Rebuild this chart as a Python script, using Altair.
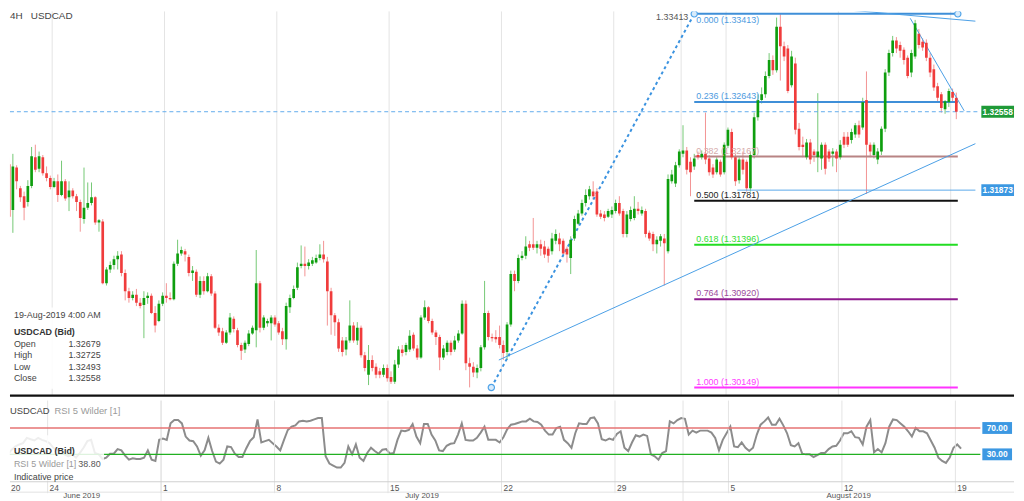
import altair as alt
import pandas as pd

FONT = "Liberation Sans"

# ---------------- data (4H bars, 6 per trading day, first bar = 20 Jun 2019) ----------------
bar_open = [
1.3210,1.3170,1.3207,1.3189,1.3182,1.3177,1.3191,1.3216,1.3206,1.3216,
1.3202,1.3198,1.3190,1.3195,1.3183,1.3195,1.3181,1.3187,1.3182,1.3177,
1.3162,1.3172,1.3176,1.3181,1.3159,1.3160,1.3106,1.3118,1.3122,1.3127,
1.3131,1.3115,1.3099,1.3093,1.3096,1.3089,1.3087,1.3093,1.3095,1.3080,
1.3073,1.3088,1.3095,1.3093,1.3092,1.3123,1.3132,1.3134,1.3129,1.3115,
1.3116,1.3096,1.3108,1.3099,1.3112,1.3097,1.3067,1.3064,1.3054,1.3063,
1.3075,1.3065,1.3052,1.3048,1.3053,1.3062,1.3065,1.3106,1.3067,1.3071,
1.3071,1.3076,1.3071,1.3064,1.3057,1.3085,1.3093,1.3102,1.3121,1.3123,
1.3121,1.3123,1.3124,1.3128,1.3131,1.3125,1.3099,1.3078,1.3072,1.3056,
1.3048,1.3056,1.3069,1.3056,1.3067,1.3043,1.3026,1.3039,1.3033,1.3029,
1.3026,1.3032,1.3024,1.3020,1.3035,1.3048,1.3046,1.3048,1.3061,1.3049,
1.3041,1.3076,1.3085,1.3073,1.3063,1.3059,1.3041,1.3046,1.3054,1.3048,
1.3056,1.3062,1.3088,1.3036,1.3033,1.3028,1.3032,1.3050,1.3080,1.3059,
1.3059,1.3059,1.3052,1.3046,1.3070,1.3114,1.3108,1.3128,1.3130,1.3140,
1.3140,1.3137,1.3140,1.3138,1.3136,1.3134,1.3143,1.3145,1.3143,1.3136,
1.3128,1.3145,1.3158,1.3167,1.3176,1.3182,1.3186,1.3186,1.3167,1.3166,
1.3164,1.3166,1.3169,1.3176,1.3169,1.3149,1.3162,1.3163,1.3171,1.3167,
1.3169,1.3150,1.3149,1.3140,1.3143,1.3145,1.3134,1.3195,1.3193,1.3209,
1.3219,1.3222,1.3212,1.3208,1.3218,1.3216,1.3219,1.3215,1.3207,1.3203,
1.3212,1.3203,1.3226,1.3238,1.3216,1.3196,1.3214,1.3212,1.3189,1.3218,
1.3251,1.3266,1.3271,1.3287,1.3301,1.3292,1.3330,1.3313,1.3311,1.3279,
1.3298,1.3241,1.3227,1.3216,1.3229,1.3221,1.3216,1.3215,1.3227,1.3221,
1.3219,1.3221,1.3216,1.3234,1.3234,1.3231,1.3236,1.3244,1.3242,1.3266,
1.3227,1.3218,1.3214,1.3221,1.3241,1.3290,1.3307,1.3318,1.3314,1.3310,
1.3303,1.3290,1.3304,1.3324,1.3317,1.3316,1.3303,1.3293,1.3278,1.3271,
1.3258,1.3264,1.3273,1.32679]

bar_high = [
1.3216,1.3219,1.3209,1.3191,1.3186,1.3196,1.3225,1.3227,1.3221,1.3218,
1.3208,1.3200,1.3198,1.3201,1.3213,1.3197,1.3195,1.3189,1.3184,1.3179,
1.3207,1.3194,1.3194,1.3182,1.3162,1.3162,1.3120,1.3125,1.3130,1.3134,
1.3134,1.3118,1.3102,1.3099,1.3101,1.3093,1.3099,1.3098,1.3097,1.3086,
1.3091,1.3098,1.3106,1.3098,1.3125,1.3144,1.3138,1.3136,1.3131,1.3121,
1.3118,1.3112,1.3112,1.3115,1.3114,1.3099,1.3070,1.3067,1.3065,1.3080,
1.3077,1.3067,1.3054,1.3056,1.3065,1.3069,1.3135,1.3108,1.3078,1.3075,
1.3078,1.3078,1.3073,1.3067,1.3089,1.3096,1.3104,1.3124,1.3139,1.3138,
1.3127,1.3129,1.3131,1.3140,1.3143,1.3129,1.3102,1.3080,1.3075,1.3059,
1.3059,1.3091,1.3072,1.3072,1.3069,1.3046,1.3052,1.3043,1.3036,1.3032,
1.3035,1.3035,1.3029,1.3039,1.3051,1.3052,1.3054,1.3065,1.3063,1.3052,
1.3078,1.3091,1.3086,1.3075,1.3065,1.3061,1.3052,1.3056,1.3056,1.3060,
1.3065,1.3091,1.3091,1.3041,1.3037,1.3035,1.3052,1.3108,1.3082,1.3062,
1.3065,1.3069,1.3056,1.3072,1.3117,1.3117,1.3131,1.3134,1.3147,1.3143,
1.3163,1.3143,1.3144,1.3143,1.3138,1.3150,1.3153,1.3150,1.3145,1.3138,
1.3147,1.3165,1.3170,1.3179,1.3188,1.3191,1.3195,1.3189,1.3170,1.3169,
1.3171,1.3173,1.3179,1.3182,1.3171,1.3169,1.3173,1.3182,1.3177,1.3173,
1.3171,1.3152,1.3151,1.3147,1.3149,1.3149,1.3201,1.3205,1.3212,1.3223,
1.3244,1.3225,1.3216,1.3219,1.3221,1.3222,1.3255,1.3218,1.3210,1.3216,
1.3214,1.3229,1.3242,1.3241,1.3219,1.3216,1.3221,1.3214,1.3221,1.3255,
1.3271,1.3277,1.3291,1.3307,1.3305,1.3338,1.3341,1.3317,1.3314,1.3309,
1.3303,1.3246,1.3234,1.3232,1.3232,1.3223,1.3272,1.3229,1.3229,1.3223,
1.3224,1.3223,1.3231,1.3238,1.3238,1.3241,1.3246,1.3248,1.3268,1.3291,
1.3229,1.3229,1.3224,1.3243,1.3293,1.3310,1.3322,1.3321,1.3317,1.3312,
1.3305,1.3310,1.3336,1.3328,1.3320,1.3319,1.3307,1.3297,1.3281,1.3273,
1.3266,1.3276,1.3276,1.32725]

bar_low = [
1.3163,1.3150,1.3188,1.3177,1.3161,1.3173,1.3189,1.3203,1.3203,1.3200,
1.3195,1.3188,1.3189,1.3177,1.3182,1.3178,1.3169,1.3180,1.3169,1.3151,
1.3158,1.3170,1.3174,1.3157,1.3151,1.3105,1.3104,1.3115,1.3118,1.3118,
1.3112,1.3091,1.3089,1.3091,1.3086,1.3084,1.3058,1.3088,1.3079,1.3063,
1.3072,1.3086,1.3089,1.3091,1.3091,1.3121,1.3130,1.3125,1.3112,1.3108,
1.3094,1.3093,1.3096,1.3098,1.3095,1.3066,1.3060,1.3052,1.3053,1.3061,
1.3063,1.3050,1.3039,1.3045,1.3051,1.3061,1.3050,1.3063,1.3065,1.3068,
1.3056,1.3068,1.3061,1.3052,1.3048,1.3080,1.3092,1.3100,1.3119,1.3112,
1.3118,1.3121,1.3123,1.3126,1.3124,1.3069,1.3061,1.3060,1.3046,1.3042,
1.3043,1.3054,1.3054,1.3052,1.3041,1.3029,1.3017,1.3029,1.3023,1.3023,
1.3024,1.3020,1.3018,1.3018,1.3032,1.3042,1.3043,1.3046,1.3047,1.3039,
1.3040,1.3074,1.3071,1.3061,1.3052,1.3030,1.3039,1.3043,1.3043,1.3046,
1.3054,1.3061,1.3030,1.3015,1.3024,1.3023,1.3029,1.3048,1.3056,1.3055,
1.3054,1.3049,1.3039,1.3039,1.3068,1.3099,1.3106,1.3126,1.3127,1.3134,
1.3135,1.3132,1.3130,1.3128,1.3124,1.3131,1.3140,1.3134,1.3129,1.3124,
1.3114,1.3143,1.3157,1.3165,1.3173,1.3179,1.3179,1.3164,1.3162,1.3160,
1.3163,1.3163,1.3167,1.3165,1.3146,1.3146,1.3160,1.3161,1.3166,1.3165,
1.3146,1.3143,1.3134,1.3132,1.3138,1.3104,1.3132,1.3193,1.3190,1.3207,
1.3216,1.3201,1.3182,1.3205,1.3214,1.3214,1.3210,1.3200,1.3198,1.3201,
1.3199,1.3201,1.3224,1.3214,1.3191,1.3193,1.3201,1.3186,1.3186,1.3215,
1.3248,1.3263,1.3268,1.3285,1.3288,1.3290,1.3283,1.3300,1.3272,1.3277,
1.3236,1.3222,1.3216,1.3214,1.3210,1.3212,1.3203,1.3205,1.3201,1.3212,
1.3208,1.3203,1.3214,1.3224,1.3225,1.3228,1.3233,1.3233,1.3240,1.3184,
1.3216,1.3215,1.3210,1.3218,1.3238,1.3287,1.3304,1.3307,1.3303,1.3297,
1.3285,1.3286,1.3302,1.3311,1.3309,1.3300,1.3286,1.3274,1.3264,1.3255,
1.3254,1.3260,1.3265,1.32493]

bar_close = [
1.3164,1.3208,1.3195,1.3181,1.3172,1.3191,1.3217,1.3205,1.3217,1.3202,
1.3198,1.3190,1.3195,1.3183,1.3195,1.3180,1.3187,1.3182,1.3177,1.3163,
1.3172,1.3176,1.3181,1.3159,1.3161,1.3106,1.3118,1.3122,1.3127,1.3130,
1.3115,1.3099,1.3093,1.3096,1.3089,1.3086,1.3093,1.3095,1.3080,1.3069,
1.3088,1.3095,1.3093,1.3092,1.3123,1.3132,1.3135,1.3131,1.3115,1.3117,
1.3096,1.3108,1.3099,1.3112,1.3097,1.3067,1.3063,1.3054,1.3063,1.3076,
1.3066,1.3052,1.3047,1.3054,1.3062,1.3067,1.3106,1.3067,1.3076,1.3073,
1.3076,1.3070,1.3063,1.3057,1.3086,1.3093,1.3101,1.3120,1.3123,1.3121,
1.3124,1.3126,1.3128,1.3131,1.3127,1.3099,1.3078,1.3072,1.3049,1.3046,
1.3056,1.3069,1.3056,1.3067,1.3043,1.3032,1.3039,1.3032,1.3026,1.3026,
1.3032,1.3023,1.3020,1.3035,1.3048,1.3045,1.3052,1.3060,1.3049,1.3041,
1.3076,1.3085,1.3073,1.3063,1.3059,1.3041,1.3049,1.3054,1.3046,1.3056,
1.3062,1.3088,1.3036,1.3033,1.3028,1.3032,1.3050,1.3080,1.3059,1.3058,
1.3057,1.3052,1.3045,1.3070,1.3114,1.3108,1.3128,1.3130,1.3138,1.3137,
1.3137,1.3140,1.3136,1.3131,1.3130,1.3145,1.3149,1.3140,1.3132,1.3131,
1.3144,1.3162,1.3167,1.3176,1.3183,1.3188,1.3182,1.3166,1.3164,1.3163,
1.3169,1.3170,1.3176,1.3167,1.3149,1.3166,1.3170,1.3171,1.3169,1.3170,
1.3149,1.3145,1.3140,1.3144,1.3147,1.3141,1.3197,1.3201,1.3209,1.3221,
1.3222,1.3205,1.3203,1.3215,1.3216,1.3219,1.3214,1.3203,1.3201,1.3214,
1.3201,1.3227,1.3240,1.3216,1.3195,1.3214,1.3205,1.3189,1.3218,1.3251,
1.3266,1.3271,1.3287,1.3301,1.3292,1.3330,1.3313,1.3304,1.3274,1.3304,
1.3240,1.3225,1.3225,1.3229,1.3214,1.3218,1.3221,1.3227,1.3206,1.3215,
1.3221,1.3215,1.3227,1.3227,1.3227,1.3238,1.3244,1.3236,1.3264,1.3227,
1.3221,1.3227,1.3221,1.3241,1.3290,1.3307,1.3318,1.3311,1.3309,1.3301,
1.3287,1.3307,1.3333,1.3314,1.3312,1.3303,1.3290,1.3277,1.3268,1.3259,
1.3265,1.3274,1.32679,1.32558]

rsi_values = [
3,30,37,42,45,47,55,53,51,55, 52,50,47,40,37,35,30,27,30,25,
32,40,50,52,32,30,23,25,31,31, 38,36,28,22,24,23,23,25,36,22,
20,52,54,52,77,82,82,77,57,51, 50,42,28,36,55,35,19,16,22,42,
41,31,26,26,39,50,56,83,48,50, 52,47,42,36,52,67,72,74,80,81,
80,81,83,85,85,27,16,13,10,10, 17,42,30,45,25,20,32,40,35,31,
37,38,31,32,52,66,65,67,76,57, 47,76,76,60,51,36,35,43,46,47,
60,77,52,51,51,55,63,72,52,52, 52,48,56,68,75,76,78,80,80,84,
80,79,75,66,60,60,70,72,52,47, 40,62,77,76,76,85,86,77,53,51,
54,52,61,65,40,35,48,59,57,60, 58,30,27,22,32,35,80,77,82,85,
84,60,66,63,66,66,66,63,55,36, 52,62,72,42,41,48,40,35,40,60,
75,80,86,75,75,84,74,62,44,42, 47,31,30,30,26,29,32,32,38,42,
43,51,62,62,65,56,55,45,72,82, 33,38,33,47,72,83,82,77,72,65,
57,70,65,65,62,51,40,25,20,17, 25,40,45,38.8]

BARS_PER_DAY = 6
week_labels = ["24", "1", "8", "15", "22", "29", "5", "12", "19"]
week_start_day = [2, 7, 12, 17, 22, 27, 32, 37, 42]      # trading-day index of each Monday
month_labels = ["June 2019", "July 2019", "August 2019"]
month_bound_day = [0, 7, 30, 44.6]                       # month band edges (trading days)

fib_ratio = ["0.000", "0.236", "0.382", "0.500", "0.618", "0.764", "1.000"]
fib_price = [1.33413, 1.32643, 1.32167, 1.31781, 1.31396, 1.30920, 1.30149]
fib_line_color = ["#3f8fd8", "#3f8fd8", "#b88484", "#111111", "#22dd22", "#8e1b8e", "#ff33ff"]
fib_text_color = ["#4d9be0", "#4d9be0", "#d6abab", "#222222", "#33dd33", "#9b4b9b", "#ff40ff"]
fib_low_bar, fib_high_bar, fib_end_bar = 128.8, 183.0, 253.4

last_price = 1.32558
level_price = 1.31873
level_start_bar = 194.5

trend_x1 = [130.8, 204.4, 240.7]
trend_p1 = [1.30389, 1.33503, 1.33374]
trend_x2 = [258.1, 258.1, 255.1]
trend_p2 = [1.32279, 1.33349, 1.32566]

rsi_levels = [70, 30]
rsi_level_colors = ["#e67373", "#22b022"]

# ---------------- layout constants ----------------
W = 980
H_MAIN = 388
H_RSI = 82
X_MIN, X_MAX = 1.55, 258.1
Y_MIN, Y_MAX = 1.30078, 1.33434
R_MIN, R_MAX = -11.6, 111.6

xsc = alt.Scale(domain=[X_MIN, X_MAX], nice=False, zero=False)
ysc = alt.Scale(domain=[Y_MIN, Y_MAX], nice=False, zero=False)
rsc = alt.Scale(domain=[R_MIN, R_MAX], nice=False, zero=False)

n = len(bar_close)
df = pd.DataFrame({"i": list(range(n)), "open": bar_open, "high": bar_high,
                   "low": bar_low, "close": bar_close, "rsi": rsi_values})

week_df = pd.DataFrame({"pos": [d * BARS_PER_DAY - 0.5 for d in week_start_day],
                        "label": week_labels})
month_pos = [d * BARS_PER_DAY - 0.5 for d in month_bound_day]
month_line_df = pd.DataFrame({"pos": month_pos[1:3]})
month_df = pd.DataFrame({"pos": [(month_pos[k] + month_pos[k + 1]) / 2 for k in range(3)],
                         "label": month_labels})
vgrid_df = pd.DataFrame({"pos": sorted(set(week_df["pos"].tolist() + month_pos[1:3]))})

one = pd.DataFrame({"k": [0]})


def txt(s, x, y, size=9, color="#444444", align="left", weight="normal", baseline="middle"):
    return alt.Chart(one).mark_text(text=s, align=align, baseline=baseline, font=FONT,
                                    fontSize=size, color=color, fontWeight=weight).encode(
        x=alt.value(x), y=alt.value(y))


X = lambda f: alt.X(f, scale=xsc, axis=None)
Y = lambda f: alt.Y(f, scale=ysc, axis=None)
R = lambda f: alt.Y(f, scale=rsc, axis=None)

price_axis = alt.Axis(orient="right", values=[1.305, 1.31, 1.315, 1.32, 1.325, 1.33], format=".5f",
                      title=None, grid=True, gridColor="#e6e6e6", gridWidth=1, ticks=False,
                      domain=True, domainColor="#d6d6d6", labelPadding=2, labelFont=FONT,
                      labelFontSize=8.5, labelColor="#555555", labelAlign="left")

up = "datum.close >= datum.open"

# ---------------- main price panel ----------------
wicks = alt.Chart(df).mark_rule(strokeWidth=1, clip=True).encode(
    x=X("i:Q"), y=alt.Y("low:Q", scale=ysc, axis=price_axis), y2="high:Q",
    color=alt.condition(up, alt.value("#74c874"), alt.value("#f39393")))
vgrid = alt.Chart(vgrid_df).mark_rule(color="#e4e4e4", strokeWidth=1).encode(
    x=X("pos:Q"), y=alt.value(0), y2=alt.value(H_MAIN))
bodies = alt.Chart(df).mark_bar(size=2.7, clip=True).encode(
    x=X("i:Q"), y=Y("open:Q"), y2="close:Q",
    color=alt.condition(up, alt.value("#0e9e0e"), alt.value("#f03c3c")))

cur_line = alt.Chart(pd.DataFrame({"p": [last_price]})).mark_rule(
    color="#62acec", strokeDash=[4, 3], strokeWidth=1).encode(
    x=alt.value(0), x2=alt.value(W), y=Y("p:Q"))
lvl_line = alt.Chart(pd.DataFrame({"p": [level_price], "a": [level_start_bar], "b": [X_MAX]})).mark_rule(
    color="#5aa8ea", strokeWidth=1, clip=True).encode(x=X("a:Q"), x2="b:Q", y=Y("p:Q"))

fib_df = pd.DataFrame({"p": fib_price, "lc": fib_line_color, "tc": fib_text_color,
                       "a": [fib_high_bar] * 7, "b": [fib_end_bar] * 7,
                       "label": [f"{r} ({p:.5f})" for r, p in zip(fib_ratio, fib_price)]})
fib_lines = alt.Chart(fib_df).mark_rule(strokeWidth=2).encode(
    x=X("a:Q"), x2="b:Q", y=Y("p:Q"), color=alt.Color("lc:N", scale=None))
fib_text = alt.Chart(fib_df.iloc[1:]).mark_text(align="left", baseline="middle", dx=2, dy=-6,
                                                font=FONT, fontSize=9).encode(
    x=X("a:Q"), y=Y("p:Q"), text="label:N", color=alt.Color("tc:N", scale=None))
fib_text_top = alt.Chart(fib_df.iloc[:1]).mark_text(align="left", baseline="top", dx=2, dy=2,
                                                    font=FONT, fontSize=9).encode(
    x=X("a:Q"), y=Y("p:Q"), text="label:N", color=alt.Color("tc:N", scale=None))
high_text = alt.Chart(fib_df.iloc[:1]).mark_text(align="right", baseline="top", dx=-6, dy=-1,
                                                 font=FONT, fontSize=9, color="#555555").encode(
    x=X("a:Q"), y=Y("p:Q"), text=alt.Text("p:Q", format=".5f"))

diag_df = pd.DataFrame({"a": [fib_low_bar], "b": [fib_high_bar],
                        "p1": [fib_price[-1]], "p2": [fib_price[0]]})
diag = alt.Chart(diag_df).mark_rule(color="#3b93e0", strokeWidth=2, strokeDash=[3, 3]).encode(
    x=X("a:Q"), x2="b:Q", y=Y("p1:Q"), y2="p2:Q")
anchor_df = pd.DataFrame({"a": [fib_low_bar, fib_high_bar, fib_end_bar],
                          "p": [fib_price[-1], fib_price[0], fib_price[0]]})
anchors = alt.Chart(anchor_df).mark_point(shape="circle", size=40, fill="#d8ebfb", fillOpacity=1,
                                          stroke="#4fa3e8", strokeWidth=1.2, clip=True).encode(
    x=X("a:Q"), y=Y("p:Q"))

trend_df = pd.DataFrame({"a": trend_x1, "b": trend_x2, "p1": trend_p1, "p2": trend_p2})
trends = alt.Chart(trend_df).mark_rule(color="#4a9fe6", strokeWidth=1, clip=True).encode(
    x=X("a:Q"), x2="b:Q", y=Y("p1:Q"), y2="p2:Q")

box_df = pd.DataFrame({"p": [last_price, level_price], "c": ["#1f9a38", "#3c98e2"]})
box_df["lo"] = box_df["p"] - 0.00052
box_df["hi"] = box_df["p"] + 0.00052
box_df["label"] = [f"{v:.5f}" for v in box_df["p"]]
price_boxes = alt.Chart(box_df).mark_rect().encode(
    x=alt.value(981), x2=alt.value(1014), y=Y("lo:Q"), y2="hi:Q", color=alt.Color("c:N", scale=None))
price_box_text = alt.Chart(box_df).mark_text(font=FONT, fontSize=8.5, fontWeight="bold",
                                             color="white", align="center").encode(
    x=alt.value(997.5), y=Y("p:Q"), text="label:N")

info_box = alt.Chart(one).mark_rect(color="white", opacity=0.85).encode(
    x=alt.value(0), x2=alt.value(95), y=alt.value(299), y2=alt.value(381))
info = [
    txt("19-Aug-2019 4:00 AM", 4, 307, size=9, color="#444444"),
    txt("USDCAD (Bid)", 4, 324, size=9, color="#333333", weight="bold"),
    txt("Open", 4, 336), txt(f"{bar_open[-1]:.5f}", 59, 336),
    txt("High", 4, 347), txt(f"{bar_high[-1]:.5f}", 59, 347),
    txt("Low", 4, 359), txt(f"{bar_low[-1]:.5f}", 59, 359),
    txt("Close", 4, 370), txt(f"{bar_close[-1]:.5f}", 59, 370),
]
title_txt = [txt("4H", 0, 0, size=10, baseline="top"), txt("USDCAD", 21, 0, size=10, baseline="top")]
divider = alt.Chart(one).mark_rule(color="#111111", strokeWidth=2.5).encode(
    x=alt.value(0), x2=alt.value(1014), y=alt.value(H_MAIN))

main = alt.layer(
    wicks, vgrid, cur_line, lvl_line, fib_lines, trends, diag, bodies, anchors,
    fib_text, fib_text_top, high_text, price_boxes, price_box_text, info_box, *info, *title_txt, divider
).properties(width=W, height=H_MAIN)

# ---------------- RSI panel ----------------
rsi_axis = alt.Axis(orient="right", values=[0, 50, 100], format=".2f", title=None, grid=True,
                    gridColor="#e6e6e6", ticks=False, domain=True, domainColor="#d6d6d6",
                    labelPadding=2, labelFont=FONT, labelFontSize=8.5, labelColor="#555555",
                    labelAlign="left")

rsi_line = alt.Chart(df).mark_line(color="#8c8c8c", strokeWidth=2, clip=True).encode(
    x=X("i:Q"), y=alt.Y("rsi:Q", scale=rsc, axis=rsi_axis))
r_week = alt.Chart(week_df).mark_rule(color="#e4e4e4", strokeWidth=1).encode(
    x=X("pos:Q"), y=alt.value(0), y2=alt.value(93.5))
r_month = alt.Chart(month_line_df).mark_rule(color="#e4e4e4", strokeWidth=1).encode(
    x=X("pos:Q"), y=alt.value(0), y2=alt.value(103))
lvl_df = pd.DataFrame({"v": rsi_levels, "c": rsi_level_colors})
r_levels = alt.Chart(lvl_df).mark_rule(strokeWidth=1.3).encode(
    x=alt.value(0), x2=alt.value(W), y=R("v:Q"), color=alt.Color("c:N", scale=None))
rbox_df = pd.DataFrame({"v": rsi_levels})
rbox_df["lo"] = rbox_df["v"] - 9
rbox_df["hi"] = rbox_df["v"] + 9
rbox_df["label"] = [f"{v:.2f}" for v in rsi_levels]
r_boxes = alt.Chart(rbox_df).mark_rect(color="#3c98e2").encode(
    x=alt.value(982), x2=alt.value(1012), y=R("lo:Q"), y2="hi:Q")
r_box_text = alt.Chart(rbox_df).mark_text(font=FONT, fontSize=8.5, fontWeight="bold",
                                          color="white", align="center").encode(
    x=alt.value(997), y=R("v:Q"), text="label:N")
r_bottom = alt.Chart(pd.DataFrame({"y": [H_RSI, 92.5], "c": ["#cfcfcf", "#e2e2e2"]})).mark_rule(
    strokeWidth=1).encode(x=alt.value(0), x2=alt.value(1014), y=alt.Y("y:Q", scale=None),
                          color=alt.Color("c:N", scale=None))
day_labels = alt.Chart(week_df).mark_text(align="left", baseline="middle", dx=2, font=FONT,
                                          fontSize=8.5, color="#555555").encode(
    x=X("pos:Q"), y=alt.value(88), text="label:N")
month_text = alt.Chart(month_df).mark_text(align="center", baseline="middle", font=FONT,
                                           fontSize=8, color="#555555").encode(
    x=X("pos:Q"), y=alt.value(96.5), text="label:N")
r_info_box = alt.Chart(one).mark_rect(color="white", opacity=0.85).encode(
    x=alt.value(0), x2=alt.value(95), y=alt.value(35), y2=alt.value(81))
r_txt = [
    txt("USDCAD", 0, 11, size=9.5, color="#444444"),
    txt("RSI 5 Wilder [1]", 45, 11, size=9.5, color="#9a9a9a"),
    txt("USDCAD (Bid)", 4, 51, size=9, color="#333333", weight="bold"),
    txt("RSI 5 Wilder [1]", 4, 64, size=9, color="#9a9a9a"),
    txt(f"{rsi_values[-1]:.2f}", 69, 64, size=9, color="#555555"),
    txt("Indicative price", 4, 77, size=9, color="#444444"),
    txt("20", 1, 88, size=8.5, color="#555555"),
]

rsi_panel = alt.layer(
    rsi_line, r_week, r_month, r_levels, r_bottom, r_info_box, r_boxes, r_box_text,
    day_labels, month_text, *r_txt
).properties(width=W, height=H_RSI)

chart = alt.vconcat(main, rsi_panel, spacing=2).properties(
    padding=0, background="white"
).configure_view(stroke=None).configure_text(font=FONT)

chart.save("out.html", embed_options={"renderer": "svg", "actions": False})
